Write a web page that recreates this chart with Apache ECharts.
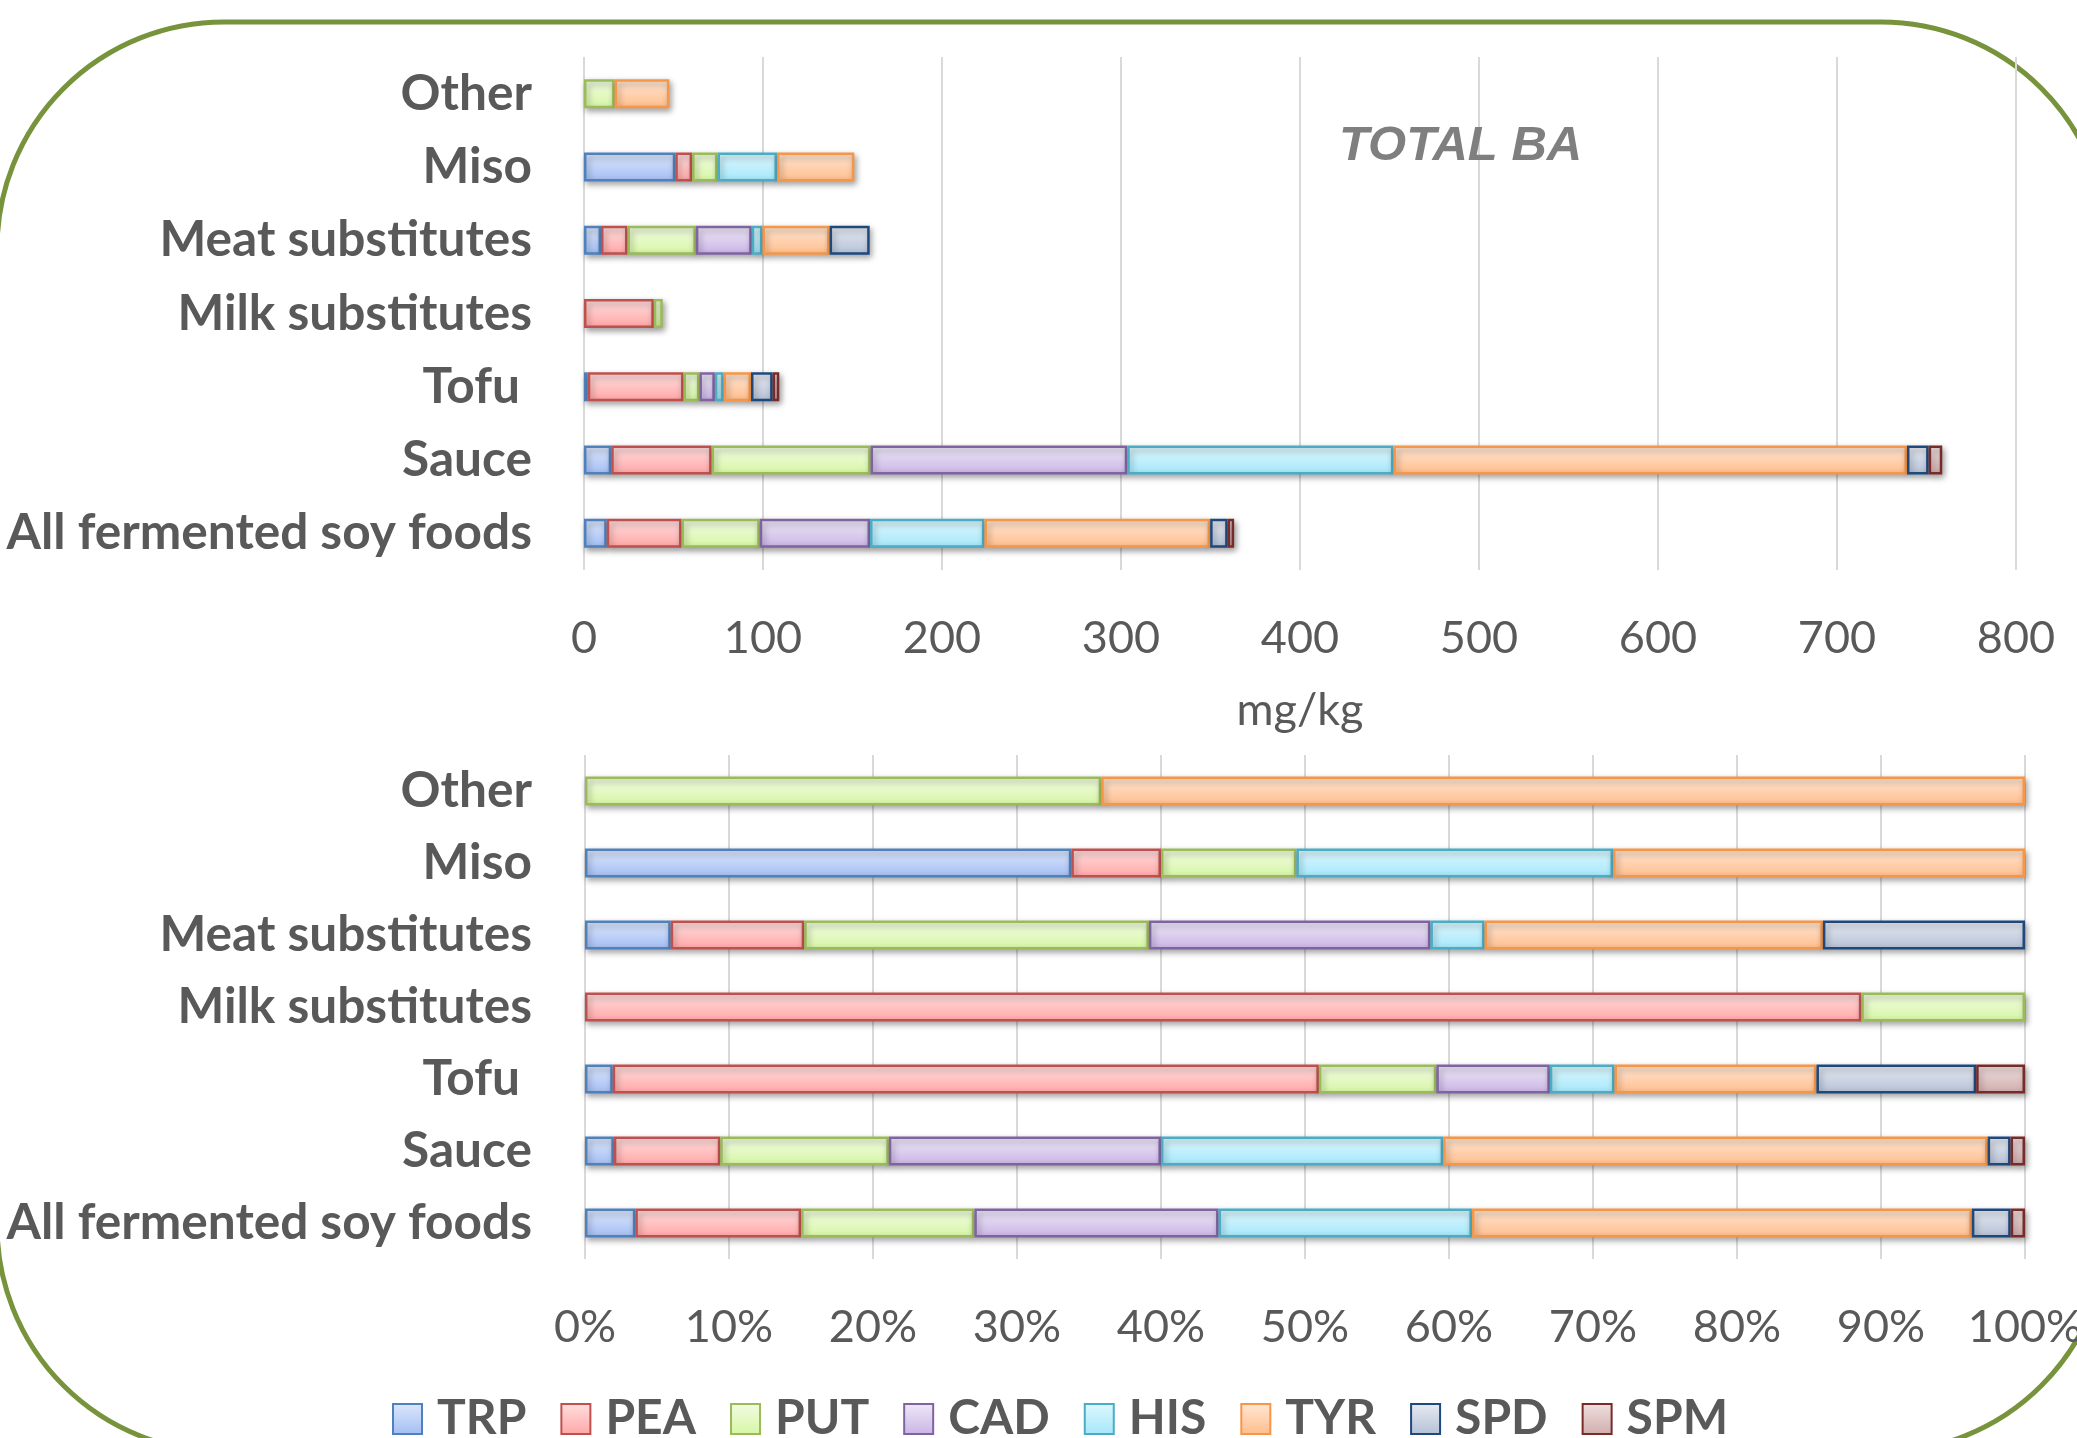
<!DOCTYPE html>
<html><head><meta charset="utf-8">
<script src="https://cdn.jsdelivr.net/npm/echarts@6/dist/echarts.min.js"></script>
<style>html,body{margin:0;padding:0;background:#fff}#c{width:2077px;height:1438px}</style>
</head><body><div id="c"></div><script>
// Categories (bottom to top)
const categories = ['All fermented soy foods', 'Sauce', 'Tofu ', 'Milk substitutes', 'Meat substitutes', 'Miso', 'Other'];
const amines = ['TRP', 'PEA', 'PUT', 'CAD', 'HIS', 'TYR', 'SPD', 'SPM'];
// mg/kg values per biogenic amine ('-' = absent)
const TRP = [12.7, 15.2, 2.1, '-', 9.5, 51.0, '-'];
const PEA = [41.8, 56.1, 53.5, 39.0, 14.8, 9.4, '-'];
const PUT = [43.7, 88.8, 8.9, 5.0, 38.2, 14.2, 17.1];
const CAD = [61.6, 143.4, 8.6, '-', 31.2, '-', '-'];
const HIS = [63.9, 148.7, 4.9, '-', 6.0, 33.2, '-'];
const TYR = [126.1, 286.9, 15.3, '-', 37.5, 43.2, 30.6];
const SPD = [9.8, 12.1, 12.1, '-', 22.4, '-', '-'];
const SPM = [3.6, 7.6, 3.7, '-', '-', '-', '-'];
const topAxis = {min: 0, max: 800, interval: 100, name: 'mg/kg'};
const pctAxis = {min: 0, max: 100, interval: 10};
const titleText = 'TOTAL BA';

const seriesValues = {TRP, PEA, PUT, CAD, HIS, TYR, SPD, SPM};
const palette = {
  TRP: {border: '#4F81BD', top: '#DDE7FB', bottom: '#A3BEF4'},
  PEA: {border: '#C0504D', top: '#FFDFDF', bottom: '#FFA6A6'},
  PUT: {border: '#9BBB59', top: '#F2FCE3', bottom: '#D6F6A4'},
  CAD: {border: '#8064A2', top: '#EFE9F8', bottom: '#C9B4E5'},
  HIS: {border: '#4BACC6', top: '#DEF8FE', bottom: '#A5E7FA'},
  TYR: {border: '#F79646', top: '#FFE7D5', bottom: '#FFBD8B'},
  SPD: {border: '#1F497D', top: '#E8EBF2', bottom: '#B4C0D6'},
  SPM: {border: '#772C2A', top: '#F0E0E0', bottom: '#D0ACAC'}
};
const num = v => (v === '-' ? 0 : v);
const totals = categories.map((c, i) => amines.reduce((s, a) => s + num(seriesValues[a][i]), 0));

const textColor = '#595959';
const catFont = {fontFamily: 'Lato', fontWeight: 'bold', fontSize: 49.6, color: textColor};
const tickFont = {fontFamily: 'Lato', fontSize: 45, color: textColor};

function itemStyle(a) {
  const p = palette[a];
  return {
    color: new echarts.graphic.LinearGradient(0, 0, 0, 1, [
      {offset: 0, color: p.top}, {offset: 1, color: p.bottom}
    ]),
    borderColor: p.border,
    borderWidth: 2.5,
    shadowBlur: 6,
    shadowOffsetX: 2,
    shadowOffsetY: 3,
    shadowColor: 'rgba(0,0,0,0.35)'
  };
}

const series = [];
amines.forEach(a => {
  series.push({
    name: a, type: 'bar', stack: 'abs', xAxisIndex: 0, yAxisIndex: 0,
    barWidth: 29, data: seriesValues[a], itemStyle: itemStyle(a)
  });
});
amines.forEach(a => {
  series.push({
    name: a, type: 'bar', stack: 'pct', xAxisIndex: 1, yAxisIndex: 1,
    barWidth: 29,
    data: seriesValues[a].map((v, i) => (v === '-' ? '-' : v / totals[i] * 100)),
    itemStyle: itemStyle(a)
  });
});

const splitLine = {show: true, lineStyle: {color: '#D9D9D9', width: 2}};
const chart = echarts.init(document.getElementById('c'), null, {renderer: 'canvas'});
chart.setOption({
  backgroundColor: '#ffffff',
  animation: false,
  title: {
    text: titleText, left: 1334, top: 117,
    textStyle: {fontFamily: 'Liberation Sans', fontStyle: 'italic', fontWeight: 'bold', fontSize: 49, color: '#7F7F7F'}
  },
  graphic: [{
    type: 'rect', silent: true, z: -10,
    shape: {x: -3, y: 22, width: 2111, height: 1430, r: 227},
    style: {fill: 'none', stroke: '#77933C', lineWidth: 5}
  }],
  legend: {
    data: amines, left: 387, top: 1390, icon: 'rect',
    itemWidth: 29, itemHeight: 30, itemGap: 34,
    textStyle: Object.assign({}, catFont, {fontSize: 48, padding: [0, 0, 0, 10]})
  },
  grid: [
    {left: 584, right: 61, top: 57, height: 513, outerBoundsMode: 'none'},
    {left: 585, right: 52, top: 755, height: 504, outerBoundsMode: 'none'}
  ],
  xAxis: [
    {
      gridIndex: 0, type: 'value', min: topAxis.min, max: topAxis.max, interval: topAxis.interval,
      name: topAxis.name, nameLocation: 'middle', nameGap: 118,
      nameTextStyle: Object.assign({}, tickFont),
      axisLine: {show: false}, axisTick: {show: false},
      axisLabel: Object.assign({margin: 46, showMinLabel: true, showMaxLabel: true}, tickFont),
      splitLine
    },
    {
      gridIndex: 1, type: 'value', min: pctAxis.min, max: pctAxis.max, interval: pctAxis.interval,
      axisLine: {show: false}, axisTick: {show: false},
      axisLabel: Object.assign({margin: 46, showMinLabel: true, showMaxLabel: true, formatter: '{value}%'}, tickFont),
      splitLine
    }
  ],
  yAxis: [
    {
      gridIndex: 0, type: 'category', data: categories,
      axisLine: {show: false}, axisTick: {show: false}, splitLine: {show: false},
      axisLabel: Object.assign({margin: 52, interval: 0}, catFont)
    },
    {
      gridIndex: 1, type: 'category', data: categories,
      axisLine: {show: false}, axisTick: {show: false}, splitLine: {show: false},
      axisLabel: Object.assign({margin: 53, interval: 0}, catFont)
    }
  ],
  series
});
</script></body></html>
